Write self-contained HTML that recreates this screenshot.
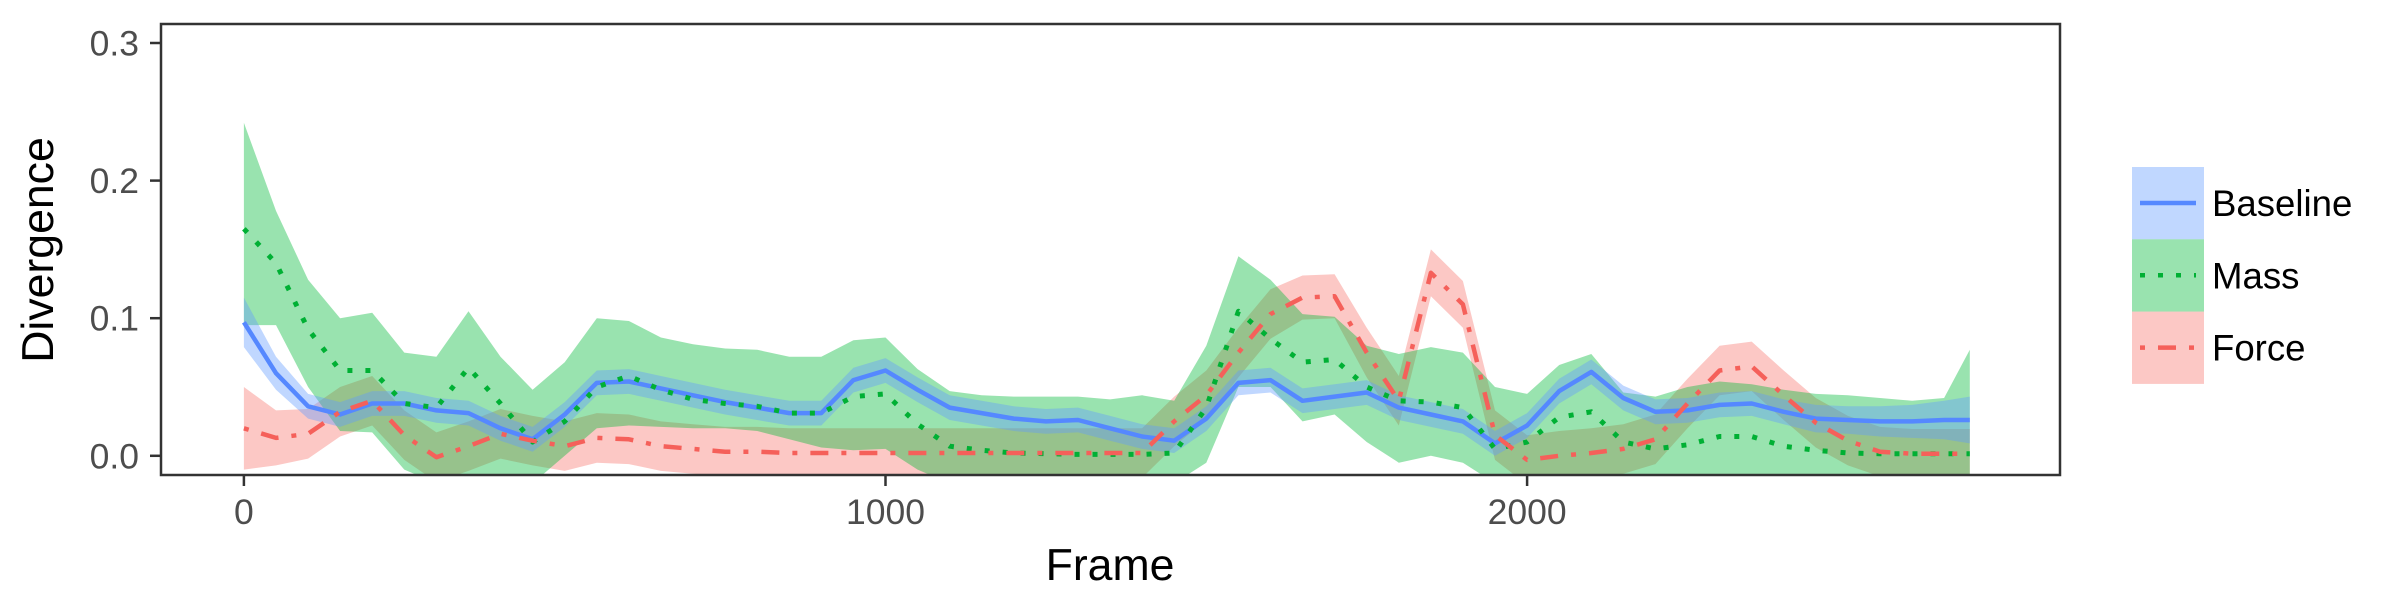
<!DOCTYPE html>
<html><head><meta charset="utf-8"><style>
html,body{margin:0;padding:0;background:#fff;}
svg{display:block;font-family:"Liberation Sans",Arial,sans-serif;}
</style></head><body>
<svg id="chart" width="2400" height="600" viewBox="0 0 2400 600" xmlns="http://www.w3.org/2000/svg">
<defs><clipPath id="pc"><rect x="161" y="24" width="1899" height="451"/></clipPath></defs>
<rect x="0" y="0" width="2400" height="600" fill="#fff"/>
<g id="fills" clip-path="url(#pc)"></g>
<g id="lines" clip-path="url(#pc)"></g>
<rect x="161" y="24" width="1899" height="451" fill="none" stroke="#333" stroke-width="2.5"/>
<g id="axes"></g>
<text x="1110" y="580" font-size="44.6" text-anchor="middle" fill="#000">Frame</text>
<text x="0" y="0" font-size="44.6" text-anchor="middle" fill="#000" transform="translate(53,250) rotate(-90)">Divergence</text>
<g id="legend"></g>
</svg>
<script>
const frames=[0,50,100,150,200,250,300,350,400,450,500,550,600,650,700,750,800,850,900,950,1000,1050,1100,1150,1200,1250,1300,1350,1400,1450,1500,1550,1600,1650,1700,1750,1800,1850,1900,1950,2000,2050,2100,2150,2200,2250,2300,2350,2400,2450,2500,2550,2600,2650,2690];
const baselineMean=[0.097,0.060,0.036,0.030,0.038,0.038,0.033,0.031,0.020,0.012,0.030,0.053,0.054,0.049,0.044,0.039,0.035,0.031,0.031,0.055,0.062,0.048,0.035,0.031,0.027,0.025,0.026,0.020,0.014,0.011,0.027,0.053,0.055,0.040,0.043,0.046,0.035,0.030,0.025,0.009,0.022,0.047,0.061,0.042,0.032,0.033,0.037,0.038,0.032,0.027,0.026,0.025,0.025,0.026,0.026];
const baselineHalf=[0.018,0.012,0.009,0.009,0.009,0.009,0.009,0.009,0.009,0.009,0.009,0.009,0.009,0.009,0.009,0.009,0.009,0.009,0.009,0.009,0.009,0.009,0.009,0.009,0.009,0.009,0.009,0.009,0.009,0.009,0.009,0.009,0.009,0.009,0.009,0.009,0.009,0.009,0.009,0.009,0.009,0.009,0.009,0.009,0.009,0.009,0.009,0.009,0.009,0.010,0.010,0.011,0.012,0.014,0.017];
const massMean=[0.165,0.140,0.092,0.062,0.062,0.038,0.035,0.064,0.038,0.010,0.025,0.050,0.058,0.048,0.041,0.038,0.036,0.031,0.031,0.043,0.045,0.023,0.007,0.004,0.002,0.0015,0.001,0.001,0.001,0.002,0.035,0.105,0.085,0.068,0.070,0.050,0.040,0.039,0.035,0.005,0.010,0.028,0.032,0.010,0.005,0.008,0.014,0.014,0.007,0.004,0.002,0.0015,0.0015,0.0015,0.0015];
const massUpper=[0.242,0.178,0.128,0.100,0.104,0.075,0.072,0.105,0.072,0.048,0.068,0.100,0.098,0.086,0.081,0.078,0.077,0.072,0.072,0.084,0.086,0.063,0.047,0.044,0.043,0.043,0.043,0.041,0.044,0.040,0.080,0.145,0.128,0.103,0.101,0.080,0.074,0.079,0.075,0.050,0.045,0.066,0.074,0.046,0.043,0.050,0.054,0.052,0.048,0.045,0.044,0.042,0.040,0.042,0.077];
const massLower=[0.095,0.095,0.050,0.018,0.017,-0.010,-0.020,-0.020,-0.020,-0.020,0.000,0.020,0.022,0.021,0.020,0.020,0.018,0.012,0.006,0.004,0.005,-0.010,-0.020,-0.020,-0.020,-0.020,-0.020,-0.020,-0.020,-0.020,-0.005,0.050,0.050,0.025,0.030,0.010,-0.005,0.000,-0.005,-0.020,-0.020,-0.020,-0.020,-0.020,-0.020,-0.020,-0.020,-0.020,-0.020,-0.020,-0.020,-0.020,-0.020,-0.020,-0.020];
const forceMean=[0.020,0.013,0.016,0.032,0.040,0.015,-0.001,0.007,0.016,0.011,0.007,0.013,0.012,0.007,0.005,0.003,0.003,0.002,0.002,0.002,0.002,0.002,0.002,0.002,0.002,0.002,0.002,0.002,0.002,0.025,0.044,0.075,0.103,0.115,0.116,0.075,0.040,0.133,0.110,0.015,-0.003,0.000,0.002,0.005,0.012,0.038,0.062,0.065,0.044,0.024,0.011,0.003,0.0015,0.0015,0.0015];
const forceHalf=[0.030,0.020,0.018,0.018,0.018,0.018,0.018,0.018,0.018,0.018,0.018,0.018,0.018,0.018,0.018,0.018,0.018,0.018,0.018,0.018,0.018,0.018,0.018,0.018,0.018,0.018,0.018,0.018,0.018,0.018,0.018,0.018,0.018,0.016,0.016,0.018,0.018,0.017,0.017,0.018,0.018,0.018,0.018,0.018,0.018,0.018,0.018,0.018,0.018,0.018,0.018,0.018,0.018,0.018,0.018];
const yTicks=[0,0.1,0.2,0.3];
const yTickLabels=["0.0","0.1","0.2","0.3"];
const xTicks=[0,1000,2000];
const xTickLabels=["0","1000","2000"];
const seriesNames=["Baseline","Mass","Force"];

const NS="http://www.w3.org/2000/svg";
function X(f){return 243.9+f*0.6416;}
function Y(v){return 455.8-v*1376;}
function mk(tag,attrs,parent){const e=document.createElementNS(NS,tag);for(const k in attrs)e.setAttribute(k,attrs[k]);parent.appendChild(e);return e;}
const fills=document.getElementById('fills'),lines=document.getElementById('lines'),axes=document.getElementById('axes'),legend=document.getElementById('legend');
function band(lo,hi,color,name){
  let d='M'+frames.map((f,i)=>X(f).toFixed(1)+','+Y(hi[i]).toFixed(1)).join(' L');
  for(let i=frames.length-1;i>=0;i--)d+=' L'+X(frames[i]).toFixed(1)+','+Y(lo[i]).toFixed(1);
  const p=mk('path',{d:d+' Z',fill:color,'fill-opacity':0.4,stroke:'none'},fills);
  
  
}
function line(vals,color,dash,w,name){
  const d='M'+frames.map((f,i)=>X(f).toFixed(1)+','+Y(vals[i]).toFixed(1)).join(' L');
  const p=mk('path',{d:d,fill:'none',stroke:color,'stroke-width':w,'stroke-dasharray':dash,'stroke-linejoin':'round'},lines);
  
  
}
band(forceMean.map((v,i)=>v-forceHalf[i]),forceMean.map((v,i)=>v+forceHalf[i]),'#F8766D','force-band');
band(massLower,massUpper,'#00BA38','mass-band');
band(baselineMean.map((v,i)=>v-baselineHalf[i]),baselineMean.map((v,i)=>v+baselineHalf[i]),'#619CFF','baseline-band');
line(baselineMean,'#5588ff','none',4.5,'baseline-line');
line(massMean,'#00B034','5 13',5,'mass-line');
line(forceMean,'#F5605A','5 13 18 13',4.5,'force-line');

yTicks.forEach((v,i)=>{
  const t=mk('line',{x1:150,x2:161,y1:Y(v),y2:Y(v),stroke:'#333','stroke-width':2.5},axes);
  
  
  const l=mk('text',{x:139,y:Y(v)+12.5,'font-size':35.5,'text-anchor':'end',fill:'#4d4d4d'},axes);
  l.textContent=yTickLabels[i];
  
  
});
xTicks.forEach((v,i)=>{
  const t=mk('line',{x1:X(v),x2:X(v),y1:475,y2:486,stroke:'#333','stroke-width':2.5},axes);
  
  
  const l=mk('text',{x:X(v),y:524,'font-size':35.5,'text-anchor':'middle',fill:'#4d4d4d'},axes);
  l.textContent=xTickLabels[i];
  
  
});
const legColors=['#619CFF','#00BA38','#F8766D'];
const legLine=['#5588ff','#00B034','#F5605A'];
const legDash=['none','5 13','5 13 18 13'];
seriesNames.forEach((n,i)=>{
  const y0=167+i*72.3;
  const r=mk('rect',{x:2132,y:y0,width:72,height:72.3,fill:legColors[i],'fill-opacity':0.4},legend);
  
  
  const l=mk('line',{x1:2140,x2:2196,y1:y0+36,y2:y0+36,stroke:legLine[i],'stroke-width':4.5,'stroke-dasharray':legDash[i]},legend);
  
  
  const t=mk('text',{x:2212,y:y0+49,'font-size':36.6,fill:'#000'},legend);
  t.textContent=n;
  
  
});
</script>
</body></html>
